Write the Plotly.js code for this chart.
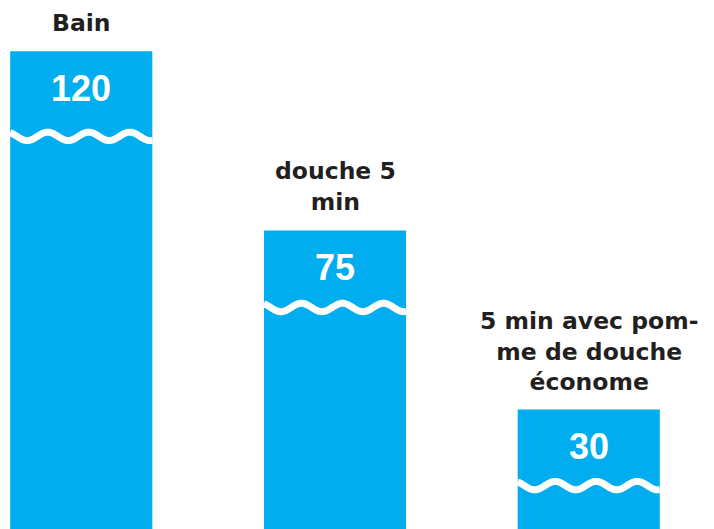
<!DOCTYPE html>
<html>
<head>
<meta charset="utf-8">
<script src="https://cdn.plot.ly/plotly-3.0.1.min.js"></script>
<style>html,body{margin:0;padding:0;background:#fff;}#chart{width:714px;height:529px;}</style>
</head>
<body>
<div id="chart"></div>
<script>
// Data
const categories = ["Bain", "douche 5<br>min", "5 min avec pom-<br>me de douche<br>économe"];
const values = [120, 75, 30];
const valueLabels = ["120", "75", "30"];

// Style
const W = 714, H = 529;
const barColor = "#00AEEF";
const textColor = "#231F20";
const barWidth = 0.56;
const xRange = [-0.3202, 2.4936];
const yRange = [0, 132.9];
const pxPerUnitX = W / (xRange[1] - xRange[0]);
const pxPerUnitY = H / (yRange[1] - yRange[0]);
const waveOffsetPx = [85, 77, 76];   // wave centre below bar top
const wavePeriodPx = 41;
const wavePhasePx = 17;              // first crest from left edge
const waveAmpPx = 4.2;

const xs = values.map((v, i) => i);

const traces = [{
  type: "bar",
  x: xs,
  y: values,
  width: barWidth,
  marker: {color: barColor, line: {width: 0}},
  hoverinfo: "skip"
}];

// white wavy lines across each bar
values.forEach((v, i) => {
  const left = i - barWidth / 2, right = i + barWidth / 2;
  const wx = [], wy = [];
  const n = 200;
  for (let k = 0; k <= n; k++) {
    const x = left + (right - left) * k / n;
    const dxPx = (x - left) * pxPerUnitX;
    const yPx = -waveAmpPx * Math.cos(2 * Math.PI * (dxPx - wavePhasePx) / wavePeriodPx);
    wx.push(x);
    wy.push(v - waveOffsetPx[i] / pxPerUnitY + yPx / pxPerUnitY);
  }
  traces.push({
    type: "scatter", mode: "lines", x: wx, y: wy,
    line: {color: "#ffffff", width: 7, shape: "spline"},
    hoverinfo: "skip", cliponaxis: true
  });
});

const annotations = [];
values.forEach((v, i) => {
  annotations.push({
    x: xs[i], y: v, xref: "x", yref: "y",
    text: valueLabels[i], showarrow: false,
    yanchor: "middle", yshift: -37,
    font: {family: "Liberation Sans, Arial, sans-serif", size: 36, color: "#ffffff", weight: 700}
  });
  annotations.push({
    x: xs[i], y: v, xref: "x", yref: "y",
    text: categories[i], showarrow: false,
    yanchor: "bottom", yshift: 12, align: "center",
    font: {family: "DejaVu Sans, sans-serif", size: 23.5, color: textColor, weight: 700}
  });
});

const layout = {
  width: W, height: H,
  margin: {l: 0, r: 0, t: 0, b: 0, pad: 0},
  paper_bgcolor: "#ffffff", plot_bgcolor: "#ffffff",
  showlegend: false,
  hovermode: false,
  xaxis: {range: xRange, visible: false, fixedrange: true},
  yaxis: {range: yRange, visible: false, fixedrange: true},
  annotations: annotations
};

Plotly.newPlot("chart", traces, layout, {staticPlot: true, displayModeBar: false});
</script>
</body>
</html>
